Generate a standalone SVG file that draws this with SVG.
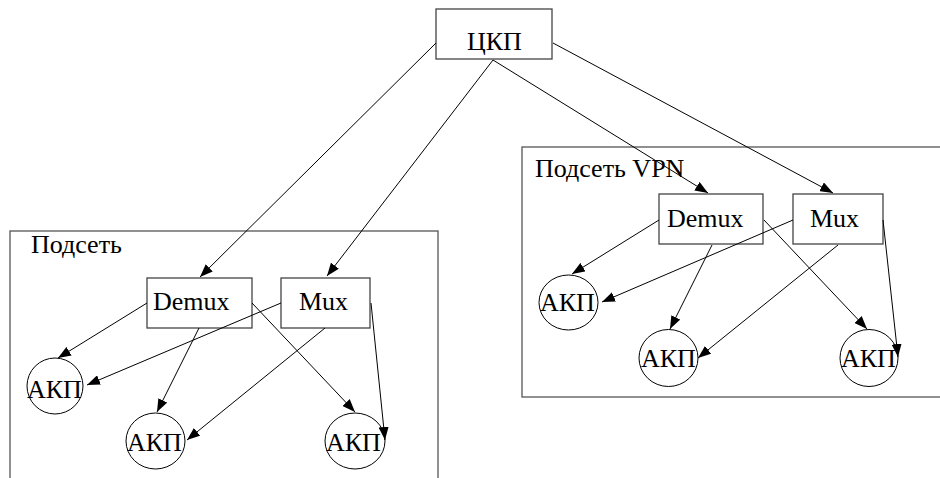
<svg xmlns="http://www.w3.org/2000/svg" width="940" height="478" viewBox="0 0 940 478">
  <style>
    .t { font-family: 'Liberation Serif', 'Times New Roman', serif; font-size: 26px; fill: #000; }
    .box { fill: #fff; stroke: #444; stroke-width: 1.3; }
    .net { fill: none; stroke: #555; stroke-width: 1.3; }
    .node { fill: #fff; stroke: #000; stroke-width: 1; }
    .edge { fill: none; stroke: #000; stroke-width: 1; marker-end: url(#arrow); }
  </style>
  <defs>
    <marker id="arrow" markerUnits="userSpaceOnUse" markerWidth="14" markerHeight="10" refX="13" refY="5" orient="auto">
      <path d="M0,0 L13,5 L0,10 Z" fill="#000"/>
    </marker>
  </defs>
  <rect width="940" height="478" fill="#fff"/>

  <!-- subnet frames -->
  <g id="subnet-left">
    <rect class="net" x="10" y="231" width="428" height="260"/>
    <text class="t" x="31" y="253">Подсеть</text>
  </g>
  <g id="subnet-vpn">
    <rect class="net" x="522" y="147" width="430" height="250"/>
    <text class="t" x="535" y="177">Подсеть VPN</text>
  </g>

  <!-- central switch -->
  <g id="ckp">
    <rect class="box" x="436" y="9" width="116" height="50"/>
    <text class="t" x="467" y="50">ЦКП</text>
  </g>

  <!-- left subnet nodes -->
  <g id="demux-left">
    <rect class="box" x="147" y="278" width="105" height="50"/>
    <text class="t" x="153" y="310">Demux</text>
  </g>
  <g id="mux-left">
    <rect class="box" x="281" y="278" width="89" height="50"/>
    <text class="t" x="299" y="310">Mux</text>
  </g>
  <g id="akp-l1">
    <ellipse class="node" cx="55" cy="386" rx="28" ry="28"/>
    <text class="t" x="27" y="398">АКП</text>
  </g>
  <g id="akp-l2">
    <ellipse class="node" cx="155.5" cy="441" rx="29.5" ry="28"/>
    <text class="t" x="127" y="451">АКП</text>
  </g>
  <g id="akp-l3">
    <ellipse class="node" cx="355" cy="441" rx="30" ry="28"/>
    <text class="t" x="326" y="451">АКП</text>
  </g>

  <!-- VPN subnet nodes -->
  <g id="demux-vpn">
    <rect class="box" x="659" y="194" width="104" height="50"/>
    <text class="t" x="667" y="227">Demux</text>
  </g>
  <g id="mux-vpn">
    <rect class="box" x="793" y="194" width="90" height="50"/>
    <text class="t" x="810" y="227">Mux</text>
  </g>
  <g id="akp-r1">
    <ellipse class="node" cx="568.5" cy="302.5" rx="29.5" ry="27.5"/>
    <text class="t" x="540" y="311">АКП</text>
  </g>
  <g id="akp-r2">
    <ellipse class="node" cx="668.5" cy="358" rx="29.5" ry="28.5"/>
    <text class="t" x="641" y="367">АКП</text>
  </g>
  <g id="akp-r3">
    <ellipse class="node" cx="869" cy="358" rx="29" ry="28.5"/>
    <text class="t" x="841" y="367">АКП</text>
  </g>

  <!-- connectors -->
  <g id="edges">
    <line class="edge" x1="436" y1="43" x2="200" y2="277"/>
    <line class="edge" x1="493" y1="60" x2="327" y2="276"/>
    <line class="edge" x1="493" y1="60" x2="708" y2="193"/>
    <line class="edge" x1="553" y1="43" x2="833" y2="193"/>

    <line class="edge" x1="147" y1="303" x2="58" y2="358"/>
    <line class="edge" x1="281" y1="303" x2="87" y2="385"/>
    <line class="edge" x1="199" y1="328" x2="157" y2="412"/>
    <line class="edge" x1="325" y1="328" x2="187" y2="440"/>
    <line class="edge" x1="252" y1="303" x2="355" y2="412"/>
    <line class="edge" x1="371" y1="303" x2="385" y2="440"/>

    <line class="edge" x1="659" y1="220" x2="572" y2="274"/>
    <line class="edge" x1="793" y1="220" x2="602" y2="302"/>
    <line class="edge" x1="712" y1="245" x2="670" y2="329"/>
    <line class="edge" x1="838" y1="245" x2="698" y2="358"/>
    <line class="edge" x1="764" y1="220" x2="867" y2="329"/>
    <line class="edge" x1="883" y1="220" x2="898" y2="357"/>
  </g>
</svg>
